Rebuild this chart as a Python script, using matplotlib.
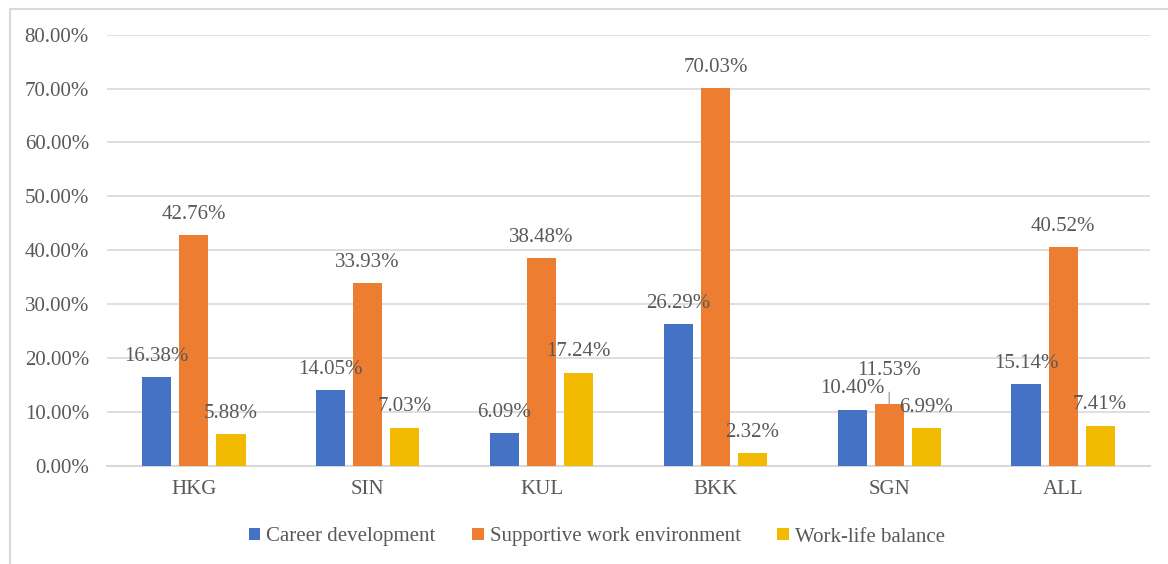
import matplotlib
matplotlib.use("Agg")
import matplotlib.pyplot as plt
import matplotlib.patches as mpatches
import numpy as np

categories = ["HKG", "SIN", "KUL", "BKK", "SGN", "ALL"]
series_names = ["Career development", "Supportive work environment", "Work-life balance"]
career = [16.38, 14.05, 6.09, 26.29, 10.40, 15.14]
supportive = [42.76, 33.93, 38.48, 70.03, 11.53, 40.52]
worklife = [5.88, 7.03, 17.24, 2.32, 6.99, 7.41]
yticks = [0, 10, 20, 30, 40, 50, 60, 70, 80]

colors = ["#4472C4", "#ED7D31", "#F2BA00"]
text_color = "#595959"
grid_color = "#D9D9D9"
fs = 15

plt.rcParams['font.family'] = ['Liberation Serif', 'DejaVu Serif']

fig = plt.figure(figsize=(11.68, 5.64), dpi=100)
ax = fig.add_axes([107/1168, 1-465.7/564, (1150-107)/1168, (465.7-34.7)/564])

x = np.arange(len(categories))
width = 0.167
step = 0.2133
all_series = [career, supportive, worklife]
# label offsets in points (default above bar); one label moved up with leader line
moved = {(1, 4): 24.0}

for i, (vals, col, name) in enumerate(zip(all_series, colors, series_names)):
    xs = x + (i - 1) * step
    ax.bar(xs, vals, width=width, color=col, label=name, zorder=3)
    for j, (xi, v) in enumerate(zip(xs, vals)):
        off = moved.get((i, j), 15.0)
        if (i, j) in moved:
            ax.annotate(f"{v:.2f}%", xy=(xi, v), xytext=(0, off), textcoords="offset points",
                        ha="center", va="center", fontsize=fs, color=text_color, zorder=5,
                        arrowprops=dict(arrowstyle="-", color="#A6A6A6", lw=1,
                                        shrinkA=7, shrinkB=0))
        else:
            ax.annotate(f"{v:.2f}%", xy=(xi, v), xytext=(0, off), textcoords="offset points",
                        ha="center", va="center", fontsize=fs, color=text_color, zorder=5)

ax.set_xlim(-0.5, 5.5)
ax.set_ylim(0, 80)
ax.set_yticks(yticks)
ax.set_yticklabels([f"{t:.2f}%" for t in yticks])
ax.set_xticks(x)
ax.set_xticklabels(categories)
ax.tick_params(axis='both', length=0, labelsize=fs, labelcolor=text_color)
ax.tick_params(axis='y', pad=13)
ax.tick_params(axis='x', pad=10)
ax.yaxis.grid(True, color=grid_color, lw=1.2, zorder=0)
ax.set_axisbelow(True)
for s in ["top", "right", "left"]:
    ax.spines[s].set_visible(False)
ax.spines["bottom"].set_color(grid_color)
ax.spines["bottom"].set_linewidth(1.5)

leg = fig.legend(loc="center", bbox_to_anchor=(597/1168, 1-537/564), ncol=3, frameon=False,
                 fontsize=fs, handlelength=0.55, handleheight=0.55, handletextpad=0.3,
                 columnspacing=1.75, labelcolor=text_color)

border = mpatches.Rectangle((10/1168, -0.2), 1.5, 1.2 - 9/564, transform=fig.transFigure,
                            fill=False, edgecolor="#D9D9D9", lw=1.5)
fig.patches.append(border)

fig.savefig("out.png", dpi=100)
